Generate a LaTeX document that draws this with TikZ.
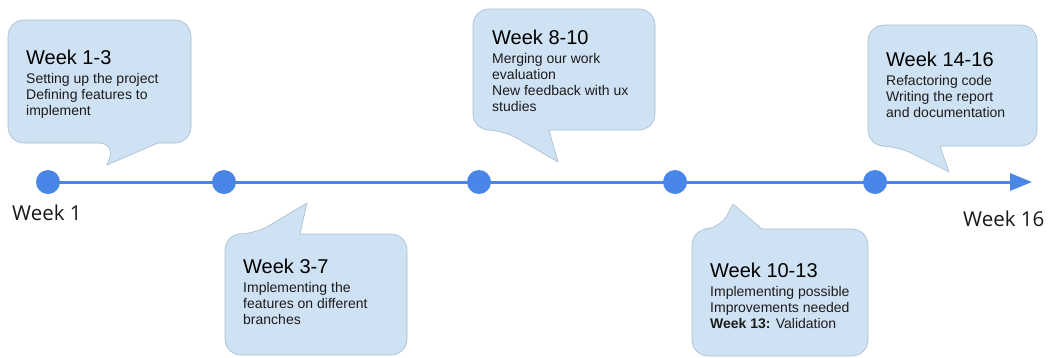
\documentclass[tikz,border=0pt]{standalone}
\usepackage{fontspec}
\setmainfont{Liberation Sans}
\newfontfamily\axisfont{Open Sans}
\usetikzlibrary{arrows.meta}

\definecolor{tlblue}{HTML}{4A86E8}
\definecolor{bubblefill}{HTML}{CFE2F3}
\definecolor{bubbleedge}{HTML}{A7BCCF}
\definecolor{bodytext}{HTML}{1C1C1C}

\tikzset{
  bubble/.style={fill=bubblefill, draw=bubbleedge, line width=0.6pt},
  timeline/.style={draw=tlblue, line width=3pt, -{Triangle[length=22pt,width=17pt]}},
  milestone/.style={circle, fill=tlblue, minimum size=24pt, inner sep=0pt},
  heading/.style={anchor=base west, inner sep=0pt, font=\fontsize{20}{24}\selectfont},
  body/.style={anchor=base west, inner sep=0pt, text=bodytext, font=\fontsize{14}{16}\selectfont},
  axislabel/.style={anchor=base west, inner sep=0pt, font=\axisfont\fontsize{20.5}{24}\selectfont, text=black!90},
}

\newcommand\lines[1]{\begin{tabular}[t]{@{}l@{}}#1\end{tabular}}

\begin{document}
\begin{tikzpicture}[x=1pt, y=-1pt]
\useasboundingbox (0,0) rectangle (1050,357);

% speech bubbles above the line
\draw[bubble] (8,80) [rounded corners=16] -- (8,143) -- (115,143) [sharp corners] -- (107,165) -- (158,143) [rounded corners=16] -- (191,143) -- (191,20) -- (8,20) -- cycle;
\draw[bubble] (473,70) [rounded corners=16] -- (473,130) -- (503,130) [sharp corners] -- (558,162) -- (549,130) [rounded corners=16] -- (655,130) -- (655,9) -- (473,9) -- cycle;
\draw[bubble] (868,85) [rounded corners=16] -- (868,146) -- (897,146) [sharp corners] -- (949,172) -- (940,146) [rounded corners=16] -- (1037,146) -- (1037,25) -- (868,25) -- cycle;

% speech bubbles below the line
\draw[bubble] (225,300) [rounded corners=16] -- (225,234) -- (255,234) [sharp corners] -- (307,203) -- (300,234) [rounded corners=16] -- (407,234) -- (407,355) -- (225,355) -- cycle;
\draw[bubble] (692,300) [rounded corners=16] -- (692,229) -- (720,229) [sharp corners] -- (733,204) -- (762,229) [rounded corners=16] -- (868,229) -- (868,356) -- (692,356) -- cycle;

% bubble texts
\node[heading] (h1) at (26,64) {Week 1-3};
\node[body] (b1) at (26,83) {\lines{Setting up the project\\Defining features to\\implement}};

\node[heading] (h2) at (492,44) {Week 8-10};
\node[body] (b2) at (492,63) {\lines{Merging our work\\evaluation\\New feedback with ux\\studies}};

\node[heading] (h3) at (886,66) {Week 14-16};
\node[body] (b3) at (886,85) {\lines{Refactoring code\\Writing the report\\and documentation}};

\node[heading] (h4) at (243,273) {Week 3-7};
\node[body] (b4) at (243,292) {\lines{Implementing the\\features on different\\branches}};

\node[heading] (h5) at (710,277) {Week 10-13};
\node[body] (b5) at (710,296) {\lines{Implementing possible\\Improvements needed\\\textbf{Week 13:} Validation}};

% timeline
\coordinate (p1) at (48,182);
\coordinate (p2) at (224,182);
\coordinate (p3) at (479,182);
\coordinate (p4) at (675,182);
\coordinate (p5) at (875,182);
\coordinate (pend) at (1032,182);
\draw[timeline] (p1) -- (pend);
\node[milestone] (d1) at (p1) {};
\node[milestone] (d2) at (p2) {};
\node[milestone] (d3) at (p3) {};
\node[milestone] (d4) at (p4) {};
\node[milestone] (d5) at (p5) {};

\node[axislabel] (start) at (12,220) {Week 1};
\node[axislabel] (finish) at (963,226) {Week 16};
\end{tikzpicture}
\end{document}
